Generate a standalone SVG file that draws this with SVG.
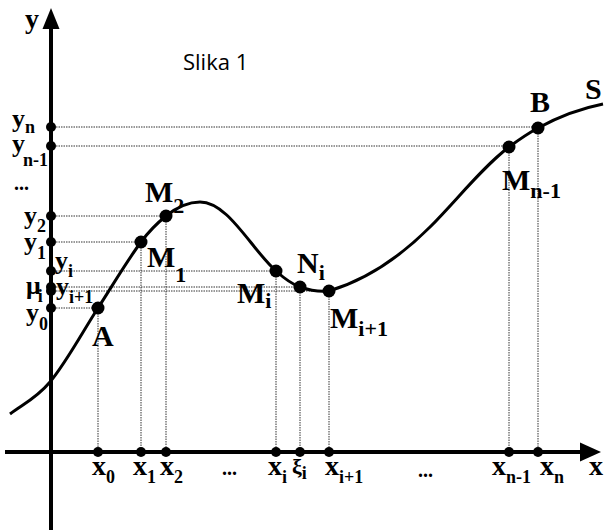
<svg xmlns="http://www.w3.org/2000/svg" width="604" height="530" viewBox="0 0 604 530">
<style>
.ax{stroke:#000;stroke-width:4;fill:none}
.dot{stroke:#333;stroke-width:1;stroke-dasharray:1.5 1;fill:none}
.cv{stroke:#000;stroke-width:3;fill:none}
.pt{fill:#000}
.lb{font-family:"Liberation Serif",serif;font-weight:bold;fill:#000}
.big{font-size:30px}
.axl{font-size:28px}
.yl{font-size:26px}
.sub{font-size:18px}
.bsub{font-size:22px}
.cap{font-family:"Open Sans","Liberation Sans",sans-serif;font-size:22px;fill:#000}
</style>
<rect width="604" height="530" fill="#fff"/>
<g id="guides">
<path class="dot" d="M51,127H538 M51,146H509 M51,216H166 M51,242H141 M51,271H276 M51,287H300 M51,291H329 M51,308H98"/>
<path class="dot" d="M98,308V452 M141,242V452 M166,216V452 M276,271V452 M300,287V452 M329,291V452 M509,147V452 M538,128V452"/>
</g>
<g id="axes">
<line class="ax" x1="51" y1="530" x2="51" y2="26"/>
<polygon class="pt" points="51,8 42.5,29 59.5,29"/>
<line class="ax" x1="5" y1="452" x2="584" y2="452"/>
<polygon class="pt" points="601,452 580,442.5 580,461.5"/>
<text class="lb axl" x="25" y="28">y</text>
<text class="lb axl" x="589" y="475">x</text>
</g>
<g id="curve">
<path class="cv" d="M10,414 C23.3,404 36.7,398 50,382 C66,362.8 82,332.8 98,308 C112.3,285.8 126.7,261.4 141,242 C149.3,230.8 157.7,222.7 166,216 C177.3,206.9 188.7,202 200,202 C228,202 250.7,248.2 276,271 C284,278.2 292,284.2 300,287 C309.7,290.4 319.3,292 329,291 C362.7,281 396.3,260.7 430,227 C456.3,200.7 482.7,166.8 509,147 C518.7,139.8 528.3,133.3 538,128 C559.7,116.1 581.3,108.3 603,104"/>
<text class="lb big" x="585" y="99">S</text>
</g>
<g id="yticks">
<circle class="pt" cx="51" cy="127" r="5"/>
<circle class="pt" cx="51" cy="146" r="5"/>
<circle class="pt" cx="51" cy="216" r="5"/>
<circle class="pt" cx="51" cy="242" r="5"/>
<circle class="pt" cx="51" cy="271" r="5"/>
<circle class="pt" cx="51" cy="287" r="5"/>
<circle class="pt" cx="51" cy="291" r="5"/>
<circle class="pt" cx="51" cy="308" r="5"/>
<text class="lb yl" x="12" y="127">y<tspan class="sub" dy="6">n</tspan></text>
<text class="lb yl" x="12" y="152">y<tspan class="sub" dx="-2" dy="14">n-1</tspan></text>
<text class="lb" font-size="20" x="14" y="190">...</text>
<text class="lb yl" x="24" y="224">y<tspan class="sub" dy="8">2</tspan></text>
<text class="lb yl" x="24" y="250">y<tspan class="sub" dy="9">1</tspan></text>
<text class="lb yl" x="55" y="269">y<tspan class="sub" dy="8">i</tspan></text>
<text class="lb yl" x="26" y="294">μ<tspan class="sub" dx="-3" dy="8">i</tspan></text>
<text class="lb yl" x="56" y="295">y<tspan class="sub" dy="8">i+1</tspan></text>
<text class="lb yl" x="26" y="321">y<tspan class="sub" dy="9">0</tspan></text>
</g>
<g id="xticks">
<circle class="pt" cx="98" cy="452" r="5"/>
<circle class="pt" cx="141" cy="452" r="5"/>
<circle class="pt" cx="166" cy="452" r="5"/>
<circle class="pt" cx="276" cy="452" r="5"/>
<circle class="pt" cx="300" cy="452" r="5"/>
<circle class="pt" cx="329" cy="452" r="5"/>
<circle class="pt" cx="509" cy="452" r="5"/>
<circle class="pt" cx="538" cy="452" r="5"/>
<text class="lb axl" x="92" y="475">x<tspan class="sub" dy="8">0</tspan></text>
<text class="lb axl" x="133" y="475">x<tspan class="sub" dy="8">1</tspan></text>
<text class="lb axl" x="160" y="475">x<tspan class="sub" dy="8">2</tspan></text>
<text class="lb" font-size="20" x="222" y="475">...</text>
<text class="lb axl" x="268" y="475">x<tspan class="sub" dy="8">i</tspan></text>
<text class="lb" font-size="22" x="292" y="474">ξ<tspan class="sub" font-size="15" dy="5">i</tspan></text>
<text class="lb axl" x="325" y="475">x<tspan class="sub" dy="8">i+1</tspan></text>
<text class="lb" font-size="20" x="418" y="477">...</text>
<text class="lb axl" x="492" y="475">x<tspan class="sub" dy="8">n-1</tspan></text>
<text class="lb axl" x="540" y="475">x<tspan class="sub" dy="8">n</tspan></text>
</g>
<g id="A"><circle class="pt" cx="98" cy="308" r="6.5"/><text class="lb big" x="92" y="346">A</text></g>
<g id="M1"><circle class="pt" cx="141" cy="242" r="6.5"/><text class="lb big" x="147" y="267">M<tspan class="bsub" dy="15">1</tspan></text></g>
<g id="M2"><circle class="pt" cx="166" cy="216" r="6.5"/><text class="lb big" x="145" y="202">M<tspan class="bsub" dy="11">2</tspan></text></g>
<g id="Mi"><circle class="pt" cx="276" cy="271" r="6.5"/><text class="lb big" x="237" y="303">M<tspan class="bsub" dy="5">i</tspan></text></g>
<g id="Ni"><circle class="pt" cx="300" cy="287" r="6.5"/><text class="lb big" x="297" y="273">N<tspan class="bsub" dy="7">i</tspan></text></g>
<g id="Mi1"><circle class="pt" cx="329" cy="291" r="6.5"/><text class="lb big" x="330" y="328">M<tspan class="bsub" dy="8">i+1</tspan></text></g>
<g id="Mn1"><circle class="pt" cx="509" cy="147" r="6.5"/><text class="lb big" x="502" y="190">M<tspan class="bsub" dy="8">n-1</tspan></text></g>
<g id="B"><circle class="pt" cx="538" cy="128" r="6.5"/><text class="lb big" x="530" y="112">B</text></g>
<text class="cap" x="183" y="70">Slika 1</text>
</svg>
